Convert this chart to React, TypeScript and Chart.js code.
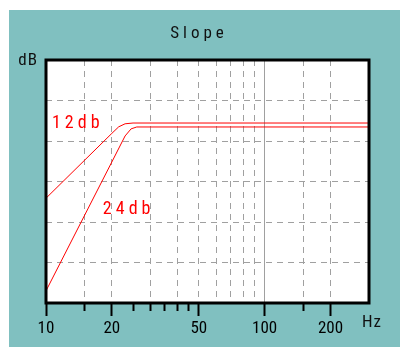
import { useEffect, useRef } from 'react';
import { Chart, registerables } from 'chart.js';

Chart.register(...registerables);

// ---- data ----
const FREQ_MIN = 10;
const FREQ_MAX = 300;
const DB_MIN = -36;
const DB_MAX = 12;
const DB_STEP = 8;

const SLOPE12_HZ = [10, 20, 21.5, 23, 25, 300];
const SLOPE12_DB = [-15.3, -2.5, -1.2, -0.6, -0.45, -0.45];
const SLOPE24_HZ = [10, 20, 23, 24.5, 26, 300];
const SLOPE24_DB = [-33.6, -8.15, -3.0, -1.6, -1.23, -1.23];

const TICK_HZ = [10, 15, 20, 25, 30, 35, 40, 45, 50, 60, 70, 80, 90, 100, 150, 200];
const LABEL_HZ = [10, 20, 50, 100, 200];
const MAJOR_MARK_HZ = [10, 20, 50, 100, 200];
const MARK_HZ = [10, 15, 20, 25, 30, 35, 40, 45, 50, 100, 150, 200];
const GRID_HZ = [15, 20, 30, 40, 50, 60, 70, 80, 90, 100, 150, 200];
const SOLID_GRID_HZ = [100];

const CURVE_LABELS = ['12db', '24db'];
const CURVE_LABEL_HZ = [10.65, 18.2];
const CURVE_LABEL_DB = [-0.54, -17.6];

const TITLE = 'Slope';
const Y_UNIT = 'dB';
const X_UNIT = 'Hz';

// ---- styles ----
const TEAL = '#80c0c0';
const RED = '#ff0000';
const GRID = '#a0a0a0';
const FONT = "'Roboto Condensed', 'DejaVu Sans Condensed', sans-serif";

function spacedText(ctx: CanvasRenderingContext2D, text: string, x: number, y: number, spacing: number, align: 'left' | 'center' | 'right') {
  (ctx as any).letterSpacing = spacing + 'px';
  const w = ctx.measureText(text).width - spacing;
  const sx = align === 'center' ? x - w / 2 : align === 'right' ? x - w : x;
  ctx.textAlign = 'left';
  ctx.textBaseline = 'middle';
  ctx.fillText(text, sx, y);
  (ctx as any).letterSpacing = '0px';
}

const decor = {
  id: 'decor',
  beforeDraw(chart: any) {
    const { ctx, chartArea: a, width, height } = chart;
    ctx.save();
    ctx.fillStyle = '#ffffff';
    ctx.fillRect(0, 0, width, height);
    ctx.fillStyle = TEAL;
    ctx.fillRect(9, 10, width - 9, height - 10);
    ctx.fillStyle = '#ffffff';
    ctx.fillRect(a.left, a.top, a.width, a.height);
    ctx.restore();
  },
  afterDraw(chart: any) {
    const { ctx, chartArea: a, scales } = chart;
    ctx.save();
    ctx.strokeStyle = '#000000';
    ctx.lineWidth = 3;
    ctx.strokeRect(a.left, a.top, a.width, a.height);

    ctx.fillStyle = '#101010';
    ctx.font = `17px ${FONT}`;
    spacedText(ctx, TITLE, 197, 34, 4, 'center');
    spacedText(ctx, Y_UNIT, a.left - 9, 61, 1, 'right');
    spacedText(ctx, X_UNIT, a.right - 7, 323, 1, 'left');

    ctx.fillStyle = RED;
    ctx.font = `18px ${FONT}`;
    CURVE_LABELS.forEach((t, i) => {
      const x = scales.x.getPixelForValue(CURVE_LABEL_HZ[i]);
      const y = scales.y.getPixelForValue(CURVE_LABEL_DB[i]);
      spacedText(ctx, t, x, y, 4, 'left');
    });
    ctx.restore();
  },
};

export default function App() {
  const ref = useRef<HTMLCanvasElement | null>(null);
  useEffect(() => {
    if (!ref.current) return;
    const mk = (hz: number[], db: number[]) => hz.map((x, i) => ({ x, y: db[i] }));
    const chart = new Chart(ref.current, {
      type: 'line',
      data: {
        datasets: [
          { label: '12db', data: mk(SLOPE12_HZ, SLOPE12_DB), borderColor: RED, borderWidth: 1, pointRadius: 0, tension: 0 },
          { label: '24db', data: mk(SLOPE24_HZ, SLOPE24_DB), borderColor: RED, borderWidth: 1, pointRadius: 0, tension: 0 },
        ],
      },
      options: {
        animation: false,
        responsive: false,
        devicePixelRatio: 1,
        layout: { padding: { left: 46, top: 60, right: 31, bottom: 4.6 } },
        plugins: { legend: { display: false }, tooltip: { enabled: false }, title: { display: false } },
        scales: {
          x: {
            type: 'logarithmic',
            min: FREQ_MIN,
            max: FREQ_MAX,
            afterBuildTicks: (axis: any) => {
              axis.ticks = TICK_HZ.map((v) => ({ value: v }));
            },
            border: {
              display: false,
              dash: (c: any) => (c.tick && SOLID_GRID_HZ.includes(c.tick.value) ? [] : [6, 5]),
            },
            grid: {
              color: (c: any) => (c.tick && GRID_HZ.includes(c.tick.value) ? GRID : 'rgba(0,0,0,0)'),
              lineWidth: 1,
              drawTicks: true,
              tickLength: 13,
              tickWidth: 2,
              tickColor: (c: any) => (c.tick && MARK_HZ.includes(c.tick.value) ? '#000000' : 'rgba(0,0,0,0)'),
              tickBorderDash: (c: any) => (c.tick && MAJOR_MARK_HZ.includes(c.tick.value) ? [] : [8, 100]),
            },
            ticks: {
              autoSkip: false,
              maxRotation: 0,
              padding: 3,
              color: '#000000',
              font: { family: FONT, size: 17, lineHeight: 1.2 },
              callback: (v: any) => (LABEL_HZ.includes(Number(v)) ? String(v) : ''),
            },
          },
          y: {
            type: 'linear',
            min: DB_MIN,
            max: DB_MAX,
            border: { display: false, dash: [6, 5] },
            grid: { color: GRID, lineWidth: 1, drawTicks: false },
            ticks: { display: false, stepSize: DB_STEP },
          },
        },
      },
      plugins: [decor],
    });
    return () => chart.destroy();
  }, []);
  return (
    <div style={{ position: 'fixed', left: 0, top: 0, width: 400, height: 347 }}>
      <canvas ref={ref} width={400} height={347} />
    </div>
  );
}
